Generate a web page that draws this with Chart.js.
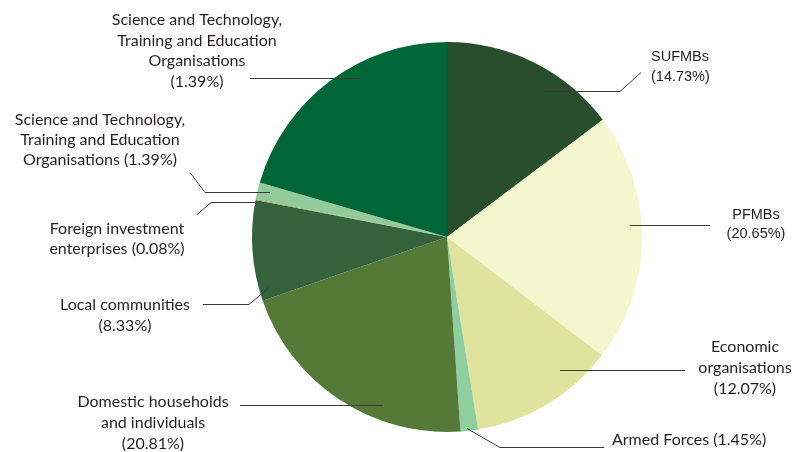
<!DOCTYPE html>
<html>
<head>
<meta charset="utf-8">
<script src="https://cdn.jsdelivr.net/npm/chart.js@4"></script>
<style>
  html, body { margin: 0; padding: 0; background: #ffffff; }
  #wrap { width: 795px; height: 452px; position: relative; }
</style>
</head>
<body>
<div id="wrap"><canvas id="pie"></canvas></div>
<script>
// Land allocation by user group (share of total, %)
const categories = [
  "SUFMBs",
  "PFMBs",
  "Economic organisations",
  "Armed Forces",
  "Domestic households and individuals",
  "Local communities",
  "Foreign investment enterprises",
  "Science and Technology, Training and Education Organisations",
  "Science and Technology, Training and Education Organisations (large)"
];
const shares = [14.73, 20.65, 12.07, 1.45, 20.81, 8.33, 0.08, 1.39, 20.49];
const sliceColors = ["#284e2b", "#f4f6cd", "#e0e39e", "#8fcf9f", "#557936",
                     "#33623b", "#8aa84f", "#94cb9b", "#006638"];

// Printed label text for each slice (lines)
const labelLines = [
  ["SUFMBs", "(14.73%)"],
  ["PFMBs", "(20.65%)"],
  ["Economic", "organisations", "(12.07%)"],
  ["Armed Forces (1.45%)"],
  ["Domestic households", "and individuals", "(20.81%)"],
  ["Local communities", "(8.33%)"],
  ["Foreign investment", "enterprises (0.08%)"],
  ["Science and Technology,", "Training and Education", "Organisations (1.39%)"],
  ["Science and Technology,", "Training and Education", "Organisations", "(1.39%)"]
];

// Label placement: text anchor, alignment, font, and leader polyline
const MYRIAD = "16px Lato, 'Open Sans', sans-serif";
const ARIAL = "14.5px 'Liberation Sans', Arial, sans-serif";
const labelLayout = [
  { x: 651, y: 57, align: "left", font: ARIAL, lh: 20, leader: [[545, 91], [620, 91], [641, 72]] },
  { x: 756, y: 215, align: "center", font: ARIAL, lh: 19, leader: [[630, 225], [710, 225]] },
  { x: 745, y: 347, align: "center", font: MYRIAD, lh: 21, leader: [[560, 370], [685, 370]] },
  { x: 612, y: 440, align: "left", font: MYRIAD, lh: 20, leader: [[467, 428], [500, 447], [604, 447]] },
  { x: 153, y: 402, align: "center", font: MYRIAD, lh: 21, leader: [[240, 405], [383, 405]] },
  { x: 125, y: 305, align: "center", font: MYRIAD, lh: 21, leader: [[203, 304], [249, 304], [269, 287]] },
  { x: 117, y: 229, align: "center", font: MYRIAD, lh: 20, leader: [[197, 214], [211, 202], [258, 202]] },
  { x: 100, y: 120, align: "center", font: MYRIAD, lh: 20, leader: [[190, 172], [205, 192], [270, 192]] },
  { x: 197, y: 20, align: "center", font: MYRIAD, lh: 20.5, leader: [[250, 78], [360, 78]] }
];

const calloutPlugin = {
  id: "callouts",
  afterDatasetsDraw(chart) {
    const ctx = chart.ctx;
    ctx.save();
    labelLayout.forEach((lay, i) => {
      // leader line
      ctx.beginPath();
      ctx.strokeStyle = "#3a3a3a";
      ctx.lineWidth = 1;
      lay.leader.forEach((p, k) => {
        if (k === 0) ctx.moveTo(p[0], p[1] + 0.5);
        else ctx.lineTo(p[0], p[1] + 0.5);
      });
      ctx.stroke();
      // label text
      ctx.fillStyle = "#231f20";
      ctx.font = lay.font;
      ctx.textAlign = lay.align;
      ctx.textBaseline = "middle";
      labelLines[i].forEach((line, k) => {
        ctx.fillText(line, lay.x, lay.y + k * lay.lh);
      });
    });
    ctx.restore();
  }
};

new Chart(document.getElementById("pie"), {
  type: "pie",
  data: {
    labels: categories,
    datasets: [{
      data: shares,
      backgroundColor: sliceColors,
      borderWidth: 0,
      hoverOffset: 0
    }]
  },
  options: {
    responsive: true,
    maintainAspectRatio: false,
    animation: false,
    layout: { padding: { top: 42, bottom: 20, left: 252, right: 153 } },
    plugins: {
      legend: { display: false },
      tooltip: { enabled: false }
    }
  },
  plugins: [calloutPlugin]
});
</script>
</body>
</html>
